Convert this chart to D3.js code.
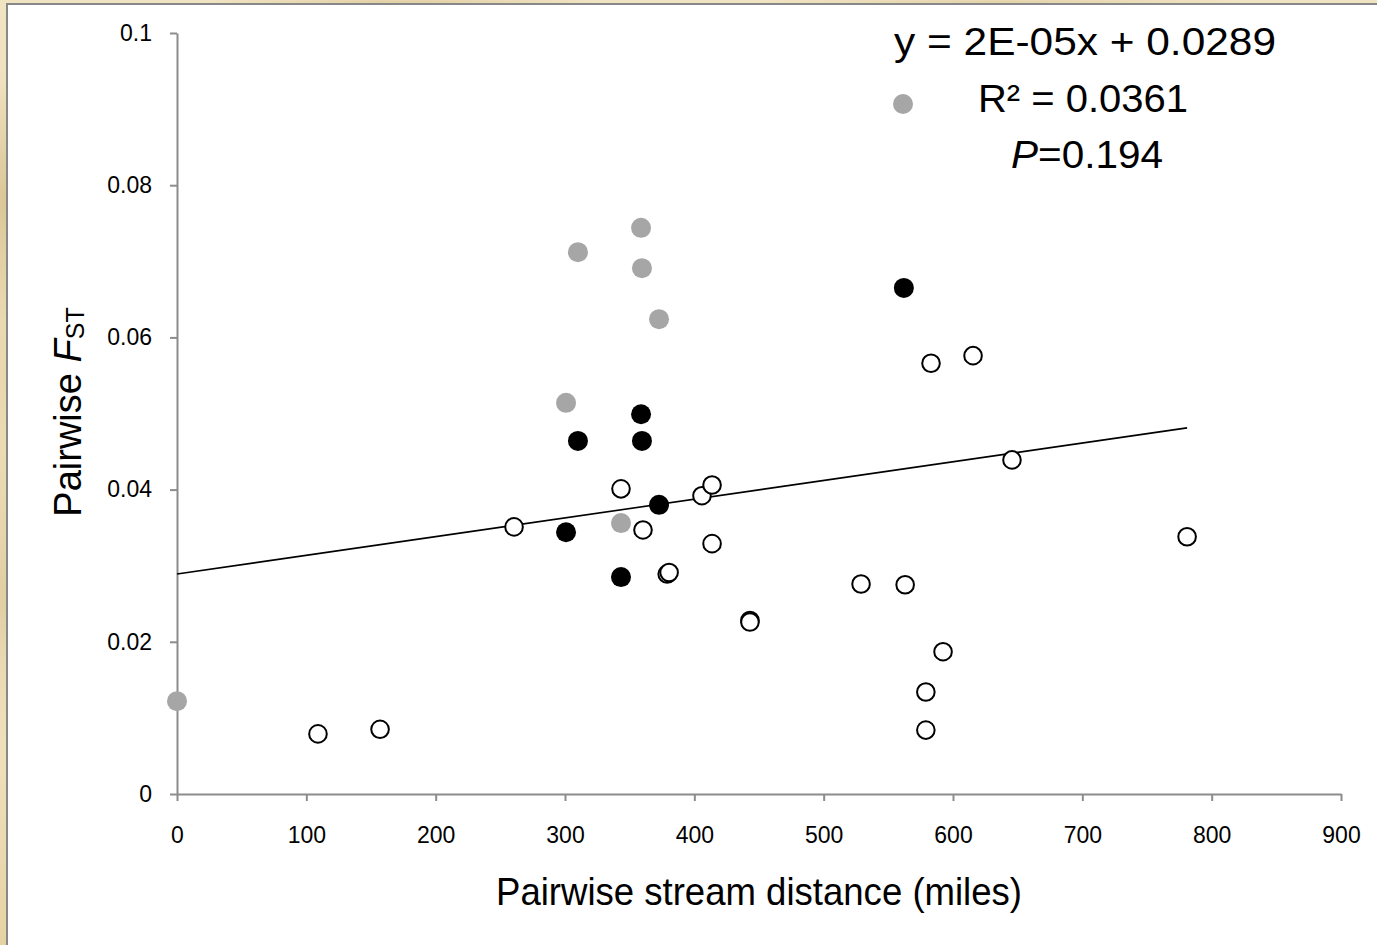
<!DOCTYPE html>
<html>
<head>
<meta charset="utf-8">
<script src="https://cdn.jsdelivr.net/npm/d3@7"></script>
<style>
  html, body { margin: 0; padding: 0; }
  body {
    width: 1377px; height: 945px; overflow: hidden;
    background:
      radial-gradient(ellipse 30px 120px at 4px 200px, rgba(200,175,120,0.5), rgba(0,0,0,0)),
      radial-gradient(ellipse 30px 150px at 3px 600px, rgba(205,180,125,0.45), rgba(0,0,0,0)),
      radial-gradient(ellipse 200px 6px at 400px 2px, rgba(205,180,125,0.45), rgba(0,0,0,0)),
      radial-gradient(ellipse 250px 6px at 1000px 2px, rgba(210,190,140,0.45), rgba(0,0,0,0)),
      linear-gradient(180deg, #f1e4c3 0%, #e9d8ad 40%, #f3e6c6 70%, #e6d3a4 100%);
  }
  svg { position: absolute; left: 0; top: 0; }
</style>
</head>
<body>
<svg id="chart" width="1377" height="945"></svg>
<script>
// ---- Data ----
const xTicks = [0, 100, 200, 300, 400, 500, 600, 700, 800, 900];
const yTicks = [0, 0.02, 0.04, 0.06, 0.08, 0.1];
const yTickLabels = ["0", "0.02", "0.04", "0.06", "0.08", "0.1"];

// grey filled points
const greyX = [0, 300.8, 310, 358.8, 359.5, 372.7, 343.3];
const greyY = [0.0122, 0.0514, 0.0712, 0.0744, 0.0691, 0.0624, 0.0356];

// black filled points
const blackX = [562, 358.8, 310, 359.5, 372.7, 300.8, 343.3];
const blackY = [0.0665, 0.0499, 0.0464, 0.0464, 0.0380, 0.0344, 0.0285];

// open points
const openX = [109, 157, 260.6, 343.3, 360.3, 379, 380.5, 405.9, 413.7, 413.7, 443, 443,
               528.9, 563, 583, 615.5, 592.3, 579, 579, 645.6, 781];
const openY = [0.0079, 0.0085, 0.0351, 0.0401, 0.0347, 0.0289, 0.0291, 0.0392, 0.0406, 0.0329, 0.0228, 0.0226,
               0.0276, 0.0275, 0.0566, 0.0576, 0.0187, 0.0134, 0.0084, 0.0439, 0.0338];

// linear trend
const trendIntercept = 0.0289;
const trendSlope = 0.0000246;
const trendRange = [0, 781];

const eqLines = ["y = 2E-05x + 0.0289", "R² = 0.0361", "=0.194"];

// ---- Layout ----
const svg = d3.select("#chart");
const x = d3.scaleLinear().domain([0, 900]).range([177, 1341]);
const y = d3.scaleLinear().domain([0, 0.1]).range([794, 33]);

// white panel with grey frame line
svg.append("rect").attr("x", 7).attr("y", 4).attr("width", 1377).attr("height", 945)
  .attr("fill", "#ffffff").attr("stroke", "#888888").attr("stroke-width", 2);

const axisColor = "#8c8c8c";
const fontFam = "'Liberation Sans', Arial, sans-serif";

// x axis
const xAxis = svg.append("g").attr("transform", `translate(0,${y(0)})`)
  .call(d3.axisBottom(x).tickValues(xTicks).tickFormat(d3.format("d")).tickSize(7).tickSizeOuter(0).tickPadding(26));
// y axis
const yAxis = svg.append("g").attr("transform", `translate(${x(0)},0)`)
  .call(d3.axisLeft(y).tickValues(yTicks).tickFormat((d, i) => yTickLabels[i]).tickSize(7).tickSizeOuter(0).tickPadding(18));

[xAxis, yAxis].forEach(g => {
  g.attr("font-size", null).attr("font-family", null);
  g.select(".domain").attr("stroke", axisColor).attr("stroke-width", 2);
  g.selectAll(".tick line").attr("stroke", axisColor).attr("stroke-width", 2);
  g.selectAll(".tick text").attr("fill", "#000").style("font-family", fontFam).style("font-size", "23px");
});

// trend line
svg.append("line")
  .attr("x1", x(trendRange[0])).attr("y1", y(trendIntercept + trendSlope * trendRange[0]))
  .attr("x2", x(trendRange[1])).attr("y2", y(trendIntercept + trendSlope * trendRange[1]))
  .attr("stroke", "#000").attr("stroke-width", 1.6);

// points
const openPts = openX.map((v, i) => [v, openY[i]]);
const blackPts = blackX.map((v, i) => [v, blackY[i]]);
const greyPts = greyX.map((v, i) => [v, greyY[i]]);

svg.append("g").selectAll("circle").data(openPts).join("circle")
  .attr("cx", d => x(d[0])).attr("cy", d => y(d[1])).attr("r", 8.8)
  .attr("fill", "#fff").attr("stroke", "#000").attr("stroke-width", 2);
svg.append("g").selectAll("circle").data(blackPts).join("circle")
  .attr("cx", d => x(d[0])).attr("cy", d => y(d[1])).attr("r", 10)
  .attr("fill", "#000");
svg.append("g").selectAll("circle").data(greyPts).join("circle")
  .attr("cx", d => x(d[0])).attr("cy", d => y(d[1])).attr("r", 10)
  .attr("fill", "#a6a6a6");

// legend dot
svg.append("circle").attr("cx", 903).attr("cy", 104).attr("r", 10).attr("fill", "#a6a6a6");

// equation text
const eq = svg.append("g").style("font-family", fontFam).style("font-size", "38px").attr("fill", "#000");
eq.append("text").attr("x", 1085).attr("y", 55).attr("text-anchor", "middle")
  .attr("textLength", 382).attr("lengthAdjust", "spacingAndGlyphs").text(eqLines[0]);
eq.append("text").attr("x", 1083).attr("y", 112).attr("text-anchor", "middle")
  .attr("textLength", 210).attr("lengthAdjust", "spacingAndGlyphs").text(eqLines[1]);
const t3 = eq.append("text").attr("x", 1087).attr("y", 168).attr("text-anchor", "middle")
  .attr("textLength", 152).attr("lengthAdjust", "spacingAndGlyphs");
t3.append("tspan").style("font-style", "italic").text("P");
t3.append("tspan").text(eqLines[2]);

// axis titles
svg.append("text").attr("x", 759).attr("y", 905).attr("text-anchor", "middle")
  .style("font-family", fontFam).style("font-size", "39px")
  .attr("textLength", 526).attr("lengthAdjust", "spacingAndGlyphs")
  .text("Pairwise stream distance (miles)");

const yt = svg.append("text").attr("transform", "translate(81,412) rotate(-90)")
  .attr("text-anchor", "middle").style("font-family", fontFam).style("font-size", "38px");
yt.append("tspan").text("Pairwise ");
yt.append("tspan").style("font-style", "italic").text("F");
yt.append("tspan").style("font-size", "25px").attr("dy", 3).text("ST");
</script>
</body>
</html>
